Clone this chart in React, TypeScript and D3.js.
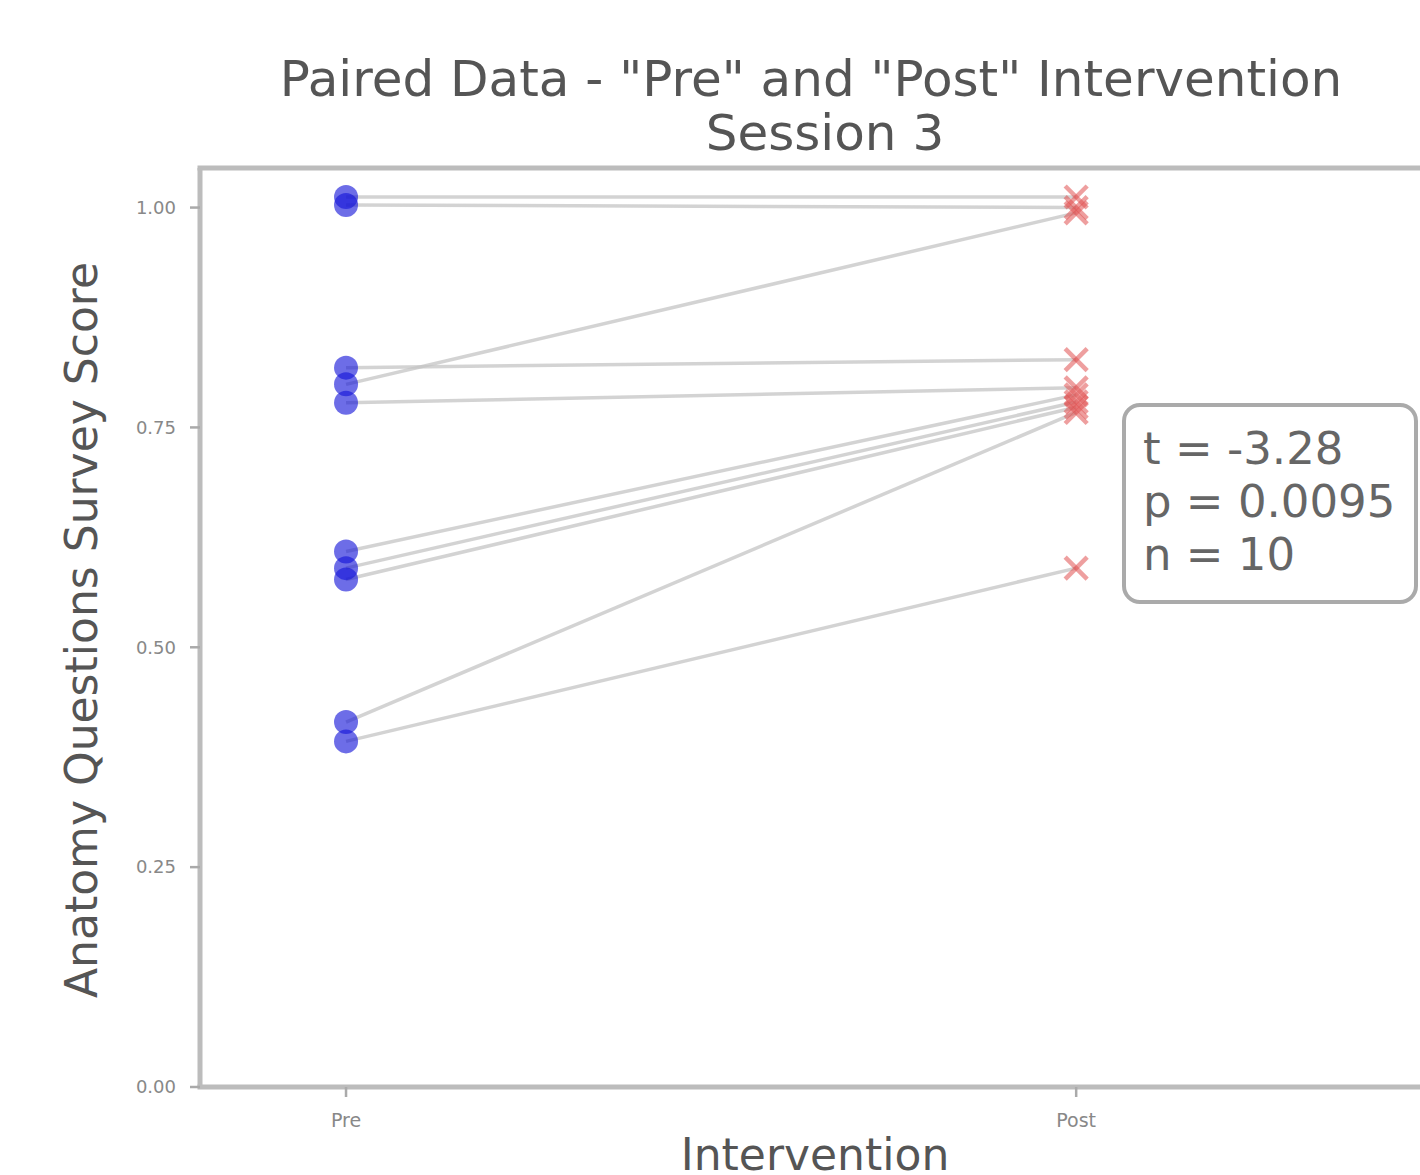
import React from "react";
import * as d3 from "d3";

const categories = ["Pre", "Post"];
const preScores = [1.012, 1.003, 0.799, 0.818, 0.778, 0.609, 0.59, 0.577, 0.415, 0.393];
const postScores = [1.012, 1.0, 0.994, 0.827, 0.795, 0.787, 0.779, 0.773, 0.767, 0.59];
const yTicks = [0, 0.25, 0.5, 0.75, 1.0];
const statLines = ["t = -3.28", "p = 0.0095", "n = 10"];

const W = 1420;
const H = 1175;
const FONT = "DejaVu Sans, sans-serif";

export default function App() {
  const x = d3.scaleLinear().domain([-0.2, 1.475]).range([200, 1423]);
  const y = d3.scaleLinear().domain([0, 1.045]).range([1087, 168]);
  const left = x(-0.2);
  const right = x(1.475);
  const top = y(1.045);
  const bottom = y(0);
  const fmt = d3.format(".2f");
  const xPre = x(0);
  const xPost = x(1);
  const xs = 11;

  return (
    <svg
      width={W}
      height={H}
      style={{ position: "absolute", left: 0, top: 0, background: "#fff" }}
      fontFamily={FONT}
    >
      <rect x={0} y={0} width={W} height={H} fill="#fff" />
      {/* title */}
      <text x={811} y={96} textAnchor="middle" fontSize={50} fill="#555">
        Paired Data - "Pre" and "Post" Intervention
      </text>
      <text x={825} y={150} textAnchor="middle" fontSize={50} fill="#555">
        Session 3
      </text>

      {/* paired lines */}
      {preScores.map((p, i) => (
        <line
          key={"l" + i}
          x1={xPre}
          y1={y(p)}
          x2={xPost}
          y2={y(postScores[i])}
          stroke="#c4c4c4"
          strokeWidth={3.5}
          strokeOpacity={0.75}
        />
      ))}

      {/* pre points */}
      {preScores.map((p, i) => (
        <circle key={"p" + i} cx={xPre} cy={y(p)} r={12} fill="#1414d8" fillOpacity={0.62} />
      ))}

      {/* post points */}
      {postScores.map((p, i) => (
        <g key={"q" + i} stroke="#e05050" strokeOpacity={0.55} strokeWidth={4.5}>
          <line x1={xPost - xs} y1={y(p) - xs} x2={xPost + xs} y2={y(p) + xs} />
          <line x1={xPost - xs} y1={y(p) + xs} x2={xPost + xs} y2={y(p) - xs} />
        </g>
      ))}

      {/* spines */}
      <line x1={left} y1={top} x2={left} y2={bottom} stroke="#bcbcbc" strokeWidth={5} />
      <line x1={left - 2.5} y1={bottom} x2={right} y2={bottom} stroke="#bcbcbc" strokeWidth={5} />
      <line x1={left - 2.5} y1={top} x2={right} y2={top} stroke="#bcbcbc" strokeWidth={5} />
      <line x1={right} y1={top} x2={right} y2={bottom} stroke="#bcbcbc" strokeWidth={5} />

      {/* y ticks */}
      {yTicks.map((t) => (
        <g key={"yt" + t}>
          <line x1={left - 10} x2={left} y1={y(t)} y2={y(t)} stroke="#aaa" strokeWidth={2.5} />
          <text x={left - 24} y={y(t)} dy="0.35em" textAnchor="end" fontSize={18} fill="#888">
            {fmt(t)}
          </text>
        </g>
      ))}

      {/* x ticks */}
      {categories.map((c, i) => (
        <g key={"xt" + c}>
          <line x1={x(i)} x2={x(i)} y1={bottom} y2={bottom + 10} stroke="#aaa" strokeWidth={2.5} />
          <text x={x(i)} y={bottom + 40} textAnchor="middle" fontSize={19} fill="#888">
            {c}
          </text>
        </g>
      ))}

      {/* axis labels */}
      <text
        transform={`translate(97, 630) rotate(-90)`}
        textAnchor="middle"
        fontSize={44}
        fill="#555"
      >
        Anatomy Questions Survey Score
      </text>
      <text x={815} y={1170} textAnchor="middle" fontSize={44} fill="#555">
        Intervention
      </text>

      {/* stats box */}
      <rect
        x={1124}
        y={405}
        width={292}
        height={197}
        rx={16}
        ry={16}
        fill="#fff"
        stroke="#aaa"
        strokeWidth={4}
      />
      {statLines.map((s, i) => (
        <text key={"s" + i} x={1143} y={464 + i * 53} fontSize={45} fill="#666">
          {s}
        </text>
      ))}
    </svg>
  );
}
